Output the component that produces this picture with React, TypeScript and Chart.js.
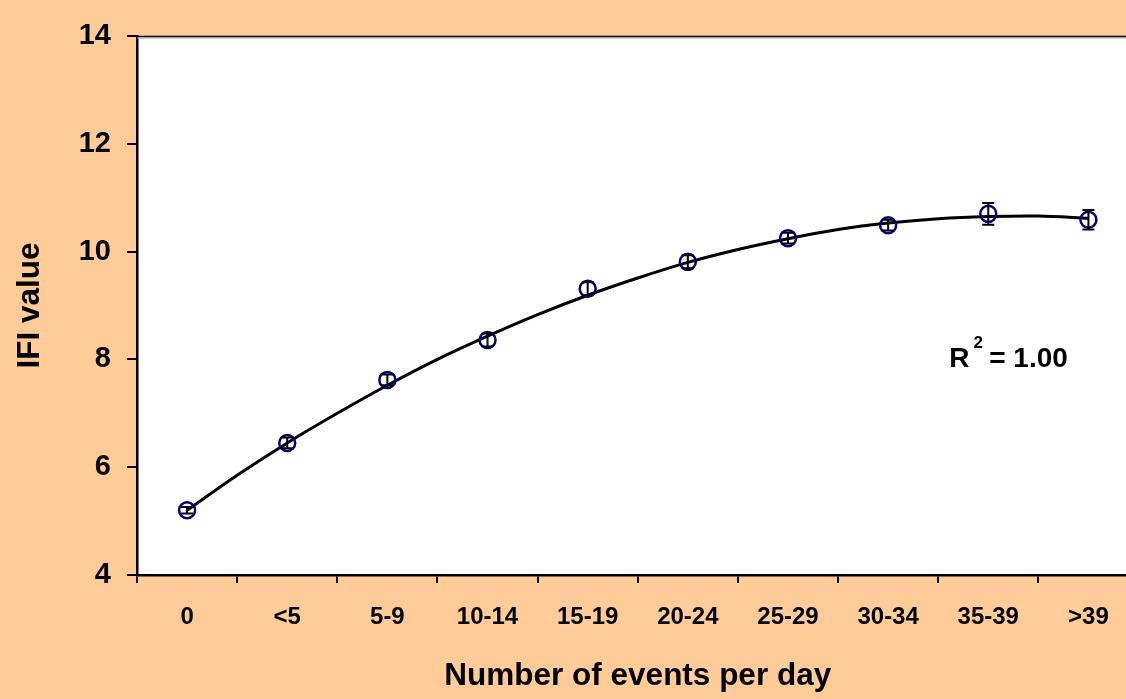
import React, { useEffect, useRef } from 'react';
import { Chart, registerables } from 'chart.js';

Chart.register(...registerables);

// ---- data ----
const categories = ['0', '<5', '5-9', '10-14', '15-19', '20-24', '25-29', '30-34', '35-39', '>39'];
const meanValues = [5.2, 6.45, 7.62, 8.36, 9.31, 9.81, 10.25, 10.49, 10.7, 10.59];
const errorValues = [0.06, 0.1, 0.1, 0.12, 0.12, 0.12, 0.1, 0.1, 0.2, 0.18];
const fitPositions = [0, 0.5, 1, 1.5, 2, 2.5, 3, 3.5, 4, 4.5, 5, 5.5, 6, 6.5, 7, 7.5, 8, 8.5, 9];
const fitValues = [5.2, 5.85, 6.45, 7.0, 7.52, 8.0, 8.43, 8.83, 9.19, 9.51, 9.8, 10.04, 10.24, 10.41, 10.53, 10.61, 10.65, 10.66, 10.62];
const yMin = 4;
const yMax = 14;
const yStep = 2;
const xTitle = 'Number of events per day';
const yTitle = 'IFI value';
const r2Text = { base: 'R', sup: '2', rest: '= 1.00', x: 7.61, y: 7.86 };

const FONT = "Arial, 'Liberation Sans', sans-serif";
const BG = '#FFCC99';

const decorPlugin = {
  id: 'decor',
  beforeDraw(chart: any) {
    const { ctx, chartArea } = chart;
    const { left, top, bottom } = chartArea;
    ctx.save();
    ctx.fillStyle = BG;
    ctx.fillRect(0, 0, chart.width, chart.height);
    ctx.fillStyle = '#ffffff';
    ctx.fillRect(left, top, chart.width - left, bottom - top);
    ctx.restore();
  },
  afterDatasetsDraw(chart: any) {
    const { ctx } = chart;
    const xs = chart.scales.x;
    const ys = chart.scales.y;
    ctx.save();
    ctx.strokeStyle = '#000000';
    ctx.lineWidth = 2;
    meanValues.forEach((v, i) => {
      const px = xs.getPixelForValue(i);
      const y1 = ys.getPixelForValue(v + errorValues[i]);
      const y2 = ys.getPixelForValue(v - errorValues[i]);
      ctx.beginPath();
      ctx.moveTo(px, y1);
      ctx.lineTo(px, y2);
      ctx.moveTo(px - 6, y1);
      ctx.lineTo(px + 6, y1);
      ctx.moveTo(px - 6, y2);
      ctx.lineTo(px + 6, y2);
      ctx.stroke();
    });
    ctx.restore();
  },
  afterDraw(chart: any) {
    const { ctx, chartArea } = chart;
    const xs = chart.scales.x;
    const ys = chart.scales.y;
    ctx.save();
    // top frame line
    ctx.strokeStyle = '#000000';
    ctx.lineWidth = 1.5;
    ctx.beginPath();
    ctx.moveTo(chartArea.left, chartArea.top + 0.5);
    ctx.lineTo(chart.width, chartArea.top + 0.5);
    ctx.stroke();
    ctx.strokeStyle = '#9a9a9a';
    ctx.lineWidth = 1;
    ctx.beginPath();
    ctx.moveTo(chartArea.left, chartArea.top + 2);
    ctx.lineTo(chart.width, chartArea.top + 2);
    ctx.stroke();
    // R^2 annotation
    const px = xs.getPixelForValue(r2Text.x);
    const py = ys.getPixelForValue(r2Text.y);
    ctx.fillStyle = '#000000';
    ctx.textBaseline = 'alphabetic';
    ctx.textAlign = 'left';
    ctx.font = `bold 28px ${FONT}`;
    ctx.fillText(r2Text.base, px, py);
    const w1 = ctx.measureText(r2Text.base).width;
    ctx.font = `bold 17px ${FONT}`;
    ctx.fillText(r2Text.sup, px + w1 + 4, py - 19);
    ctx.font = `bold 28px ${FONT}`;
    ctx.fillText(r2Text.rest, px + 40, py);
    ctx.restore();
  },
};

export default function App() {
  const canvasRef = useRef<HTMLCanvasElement>(null);

  useEffect(() => {
    if (!canvasRef.current) return;
    const chart = new Chart(canvasRef.current, {
      type: 'line',
      data: {
        datasets: [
          {
            label: 'fit',
            data: fitPositions.map((p, i) => ({ x: p, y: fitValues[i] })),
            borderColor: '#000000',
            borderWidth: 3,
            pointRadius: 0,
            tension: 0.3,
            xAxisID: 'x',
            yAxisID: 'y',
            order: 2,
          },
          {
            label: 'IFI',
            data: meanValues.map((v, i) => ({ x: i, y: v })),
            showLine: false,
            pointRadius: 8,
            pointBorderWidth: 2.5,
            pointBorderColor: '#000080',
            pointBackgroundColor: 'rgba(255,255,255,0)',
            xAxisID: 'x',
            yAxisID: 'y',
            order: 1,
          },
        ],
      },
      options: {
        animation: false,
        responsive: true,
        maintainAspectRatio: false,
        layout: { padding: { left: 0, right: 3, top: 36, bottom: 0 } },
        plugins: { legend: { display: false }, tooltip: { enabled: false } },
        scales: {
          x: {
            type: 'linear',
            display: false,
            min: -0.5,
            max: 9.5,
          },
          xc: {
            type: 'category',
            position: 'bottom',
            labels: categories,
            offset: true,
            grid: {
              offset: true,
              drawOnChartArea: false,
              drawTicks: true,
              tickLength: 8,
              color: '#000000',
              lineWidth: 2,
            },
            border: { display: true, color: '#000000', width: 2.5 },
            ticks: {
              color: '#000000',
              padding: 20,
              maxRotation: 0,
              autoSkip: false,
              font: { family: FONT, size: 24, weight: 'bold' },
            },
            title: {
              display: true,
              text: xTitle,
              color: '#000000',
              padding: { top: 0, bottom: 4 },
              font: { family: FONT, size: 31.5, weight: 'bold' },
            },
            afterFit(scale: any) {
              scale.height = 124;
            },
          },
          y: {
            type: 'linear',
            min: yMin,
            max: yMax,
            ticks: {
              stepSize: yStep,
              color: '#000000',
              padding: 16,
              font: { family: FONT, size: 29, weight: 'bold' },
            },
            grid: {
              drawOnChartArea: false,
              drawTicks: true,
              tickLength: 10,
              color: '#000000',
              lineWidth: 2,
            },
            border: { display: true, color: '#000000', width: 2.5 },
            title: {
              display: true,
              text: yTitle,
              color: '#000000',
              padding: { top: 11, bottom: 0 },
              font: { family: FONT, size: 31.5, weight: 'bold' },
            },
            afterFit(scale: any) {
              scale.width = 137;
            },
          },
        },
      } as any,
      plugins: [decorPlugin],
    });
    return () => chart.destroy();
  }, []);

  return (
    <div
      style={{
        position: 'fixed',
        left: 0,
        top: 0,
        width: 1126,
        height: 699,
        overflow: 'hidden',
        background: BG,
      }}
    >
      <div style={{ position: 'relative', width: 1149, height: 699 }}>
        <canvas ref={canvasRef} />
      </div>
    </div>
  );
}
